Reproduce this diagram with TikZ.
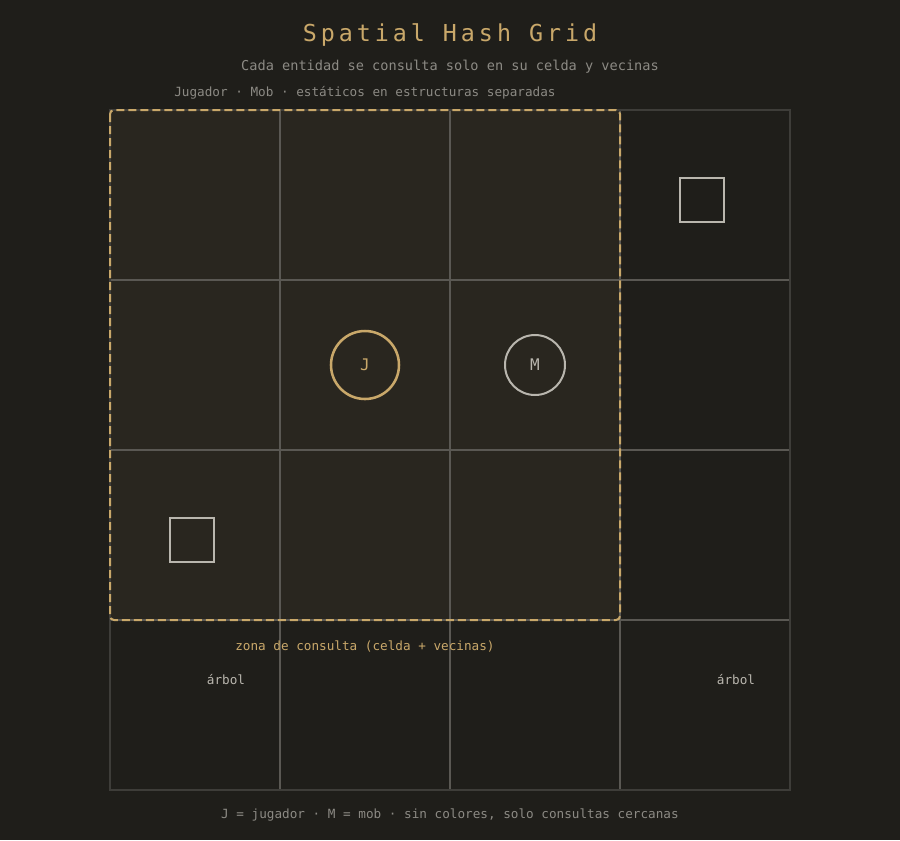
\documentclass[tikz,border=0pt]{standalone}
\usepackage{fontspec}
\setmonofont{DejaVu Sans Mono}
\newfontfamily\titlefont[LetterSpace=17]{DejaVu Sans Mono}
\definecolor{bgdark}{HTML}{1F1E1A}
\definecolor{zonefill}{HTML}{29261F}
\definecolor{gridin}{HTML}{5A5853}
\definecolor{gridout}{HTML}{3E3D39}
\definecolor{gold}{HTML}{C9A86A}
\definecolor{pale}{HTML}{B9B6AE}
\definecolor{muted}{HTML}{8C8A84}

\begin{document}
\begin{tikzpicture}[x=0.75pt, y=-0.75pt,
				title/.style={text=gold, font=\titlefont\fontsize{17.5}{20}\selectfont},
				caption/.style={text=muted, font=\ttfamily\fontsize{10.2}{12}\selectfont},
				smallcap/.style={text=muted, font=\ttfamily\fontsize{9.5}{11}\selectfont},
				cellline/.style={draw=gridin, line width=1.1pt},
				zone/.style={draw=gold, line width=1.5pt, dash pattern=on 6pt off 3pt, rounded corners=3pt},
				player/.style={circle, draw=gold, line width=1.9pt, minimum size=51pt, inner sep=0pt, text=gold, font=\ttfamily\fontsize{12}{14}\selectfont},
				mob/.style={circle, draw=pale, line width=1.5pt, minimum size=45pt, inner sep=0pt, text=pale, font=\ttfamily\fontsize{12}{14}\selectfont},
				tree/.style={rectangle, draw=pale, line width=1.5pt, minimum size=33pt, inner sep=0pt},
				treelabel/.style={text=pale, font=\ttfamily\fontsize{9.5}{11}\selectfont}
			]
			\fill[bgdark] (0,0) rectangle (900,840);
			\useasboundingbox (0,0) rectangle (900,840);
			% query zone under the grid
			\fill[zonefill, rounded corners=3pt] (110,110) rectangle (620,620);
			\foreach \k in {280,450,620} {
				\draw[cellline] (\k,110) -- (\k,790);
				\draw[cellline] (110,\k) -- (790,\k);
			}
			\draw[gridout, line width=1.3pt] (110,110) rectangle (790,790);
			\draw[zone] (110,110) rectangle (620,620);
			% entities
			\node[player] (jug) at (365,365) {J};
			\node[mob] (mob) at (535,365) {M};
			\node[tree] (tree1) at (701.5,200) {};
			\node[tree] (tree2) at (191.5,540) {};
			\node[treelabel] (tlabel1) at (736,680) {árbol};
			\node[treelabel] (tlabel2) at (226,680) {árbol};
			% texts
			\node[title] (head) at (450,35) {Spatial Hash Grid};
			\node[caption] (sub) at (450,66.5) {Cada entidad se consulta solo en su celda y vecinas};
			\node[smallcap] (note) at (365,92.5) {Jugador · Mob · estáticos en estructuras separadas};
			\node[smallcap, text=gold] (zonelabel) at (365,646.5) {zona de consulta (celda + vecinas)};
			\node[smallcap] (foot) at (450,815) {J = jugador · M = mob · sin colores, solo consultas cercanas};
			\end{tikzpicture}
\end{document}
